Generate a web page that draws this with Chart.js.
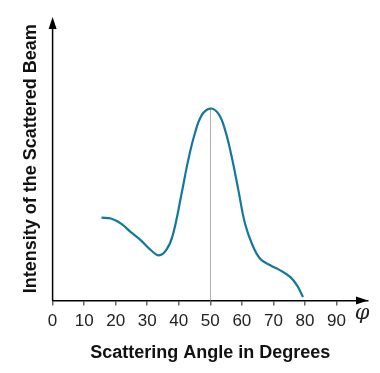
<!DOCTYPE html>
<html>
<head>
<meta charset="utf-8">
<script src="https://cdn.jsdelivr.net/npm/chart.js@4"></script>
<style>
  html, body { margin: 0; padding: 0; background: #fff; }
  #wrap { width: 380px; height: 373px; }
</style>
</head>
<body>
<div id="wrap"><canvas id="scatterChart"></canvas></div>
<script>
// Scattering angle (degrees) and relative beam intensity
const angles = [15.5, 18.5, 21.7, 24.8, 28.0, 31.2, 33.7, 36.0, 38.1, 40.9, 43.0, 45.1, 47.3, 50.0,
  52.6, 54.7, 56.8, 58.9, 61.0, 63.2, 65.8, 69.0, 72.2, 75.4, 77.5, 79.4];
const intensity = [2.92, 2.89, 2.71, 2.41, 2.12, 1.77, 1.59, 1.77, 2.30, 3.77, 4.95, 5.89, 6.54, 6.77,
  6.58, 6.01, 5.06, 3.89, 2.71, 2.00, 1.47, 1.24, 1.06, 0.82, 0.53, 0.12];
const peakAngle = 50;
const peakIntensity = 6.77;
const xTicks = [0, 10, 20, 30, 40, 50, 60, 70, 80, 90];

const points = angles.map((a, i) => ({ x: a, y: intensity[i] }));

// draws the axis arrows, the peak marker line and the phi label
const extras = {
  id: "extras",
  beforeDatasetsDraw(chart) {
    const { ctx, scales: { x, y } } = chart;
    ctx.save();
    ctx.strokeStyle = "#b0b0b0";
    ctx.lineWidth = 1;
    ctx.beginPath();
    ctx.moveTo(Math.round(x.getPixelForValue(peakAngle)) + 0.5, y.getPixelForValue(0));
    ctx.lineTo(Math.round(x.getPixelForValue(peakAngle)) + 0.5, y.getPixelForValue(peakIntensity));
    ctx.stroke();
    ctx.restore();
  },
  afterDraw(chart) {
    const { ctx, chartArea: area } = chart;
    ctx.save();
    ctx.fillStyle = "#000";
    ctx.strokeStyle = "#000";
    ctx.lineWidth = 1.5;
    // y axis with arrow
    ctx.beginPath();
    ctx.moveTo(area.left, area.bottom);
    ctx.lineTo(area.left, area.top + 8);
    ctx.stroke();
    ctx.beginPath();
    ctx.moveTo(area.left, area.top);
    ctx.lineTo(area.left - 4, area.top + 12);
    ctx.lineTo(area.left + 4, area.top + 12);
    ctx.closePath();
    ctx.fill();
    // x axis arrow
    ctx.beginPath();
    ctx.moveTo(area.right, area.bottom);
    ctx.lineTo(area.right - 12, area.bottom - 4);
    ctx.lineTo(area.right - 12, area.bottom + 4);
    ctx.closePath();
    ctx.fill();
    ctx.font = "italic 21px 'DejaVu Serif', serif";
    ctx.textAlign = "center";
    ctx.textBaseline = "middle";
    ctx.fillStyle = "#222";
    ctx.fillText("φ", area.right - 6, area.bottom + 13);
    ctx.restore();
  }
};

new Chart(document.getElementById("scatterChart"), {
  type: "line",
  data: {
    datasets: [{
      data: points,
      borderColor: "#12789f",
      borderWidth: 2.2,
      pointRadius: 0,
      fill: false,
      tension: 0.4
    }]
  },
  options: {
    responsive: true,
    maintainAspectRatio: false,
    animation: false,
    layout: { padding: { left: 0, right: 12, top: 17, bottom: 9.6 } },
    plugins: {
      legend: { display: false },
      tooltip: { enabled: false }
    },
    scales: {
      x: {
        type: "linear",
        min: 0,
        max: 100,
        afterBuildTicks: (axis) => {
          axis.ticks = xTicks.map((v) => ({ value: v }));
        },
        grid: {
          drawOnChartArea: false,
          drawTicks: true,
          tickLength: 5,
          color: "#666",
          lineWidth: 1.5
        },
        border: { display: true, color: "#000", width: 1.5 },
        ticks: {
          color: "#222",
          padding: 6,
          maxRotation: 0,
          font: { family: "'Liberation Sans', Arial, sans-serif", size: 17 }
        },
        title: {
          display: true,
          text: "Scattering Angle in Degrees",
          color: "#111",
          padding: { top: 4, bottom: 0 },
          font: { family: "'Liberation Sans', Arial, sans-serif", size: 18, weight: "bold" }
        }
      },
      y: {
        min: 0,
        max: 10,
        grid: { display: false },
        border: { display: false },
        ticks: { display: false },
        title: {
          display: true,
          text: "Intensity of the Scattered Beam",
          color: "#111",
          padding: { top: 20, bottom: 3 },
          font: { family: "'Liberation Sans', Arial, sans-serif", size: 18, weight: "bold" }
        }
      }
    }
  },
  plugins: [extras]
});
</script>
</body>
</html>
